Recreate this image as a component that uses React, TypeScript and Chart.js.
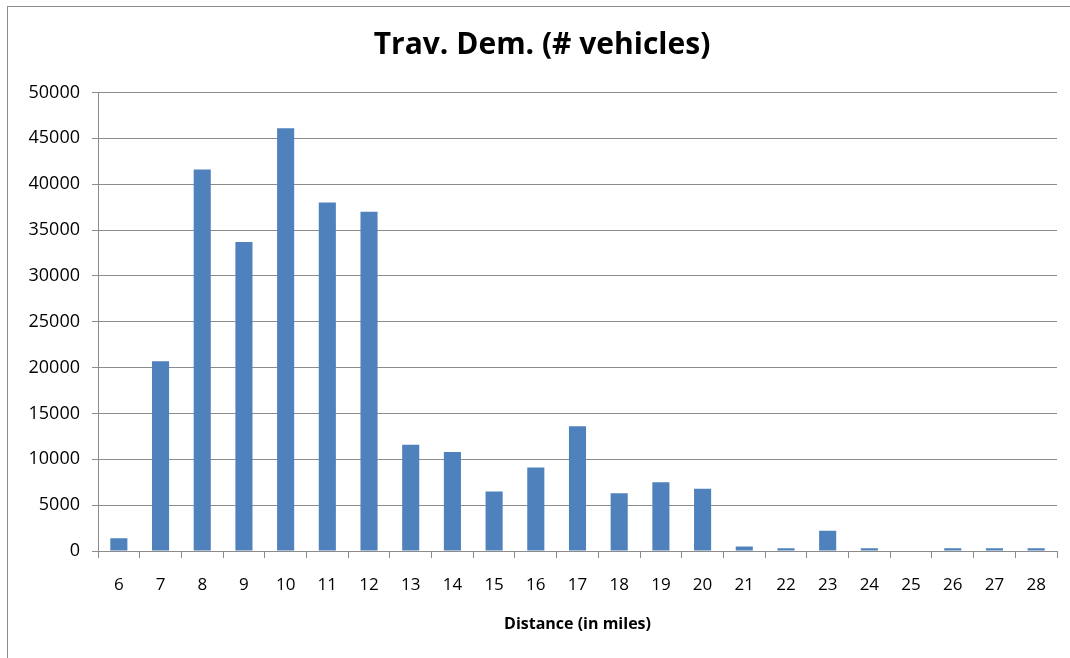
import React, { useEffect, useRef } from "react";
import { Chart, registerables } from "chart.js";

Chart.register(...registerables);

const categories = ["6","7","8","9","10","11","12","13","14","15","16","17","18","19","20","21","22","23","24","25","26","27","28"];
const vehicles = [1400, 20700, 41600, 33700, 46100, 38000, 37000, 11600, 10800, 6500, 9100, 13600, 6300, 7500, 6800, 500, 300, 2200, 300, 0, 300, 300, 300];
const yTicks = [0, 5000, 10000, 15000, 20000, 25000, 30000, 35000, 40000, 45000, 50000];
const chartTitle = "Trav. Dem. (# vehicles)";
const xTitle = "Distance (in miles)";

const FONT = "'Open Sans', 'DejaVu Sans', sans-serif";
const GRID = "#8c8c8c";

export default function App() {
  const ref = useRef<HTMLCanvasElement | null>(null);
  useEffect(() => {
    if (!ref.current) return;
    const chart = new Chart(ref.current, {
      type: "bar",
      data: {
        labels: categories,
        datasets: [
          {
            label: "Trav. Dem.",
            data: vehicles,
            backgroundColor: "#4f81bd",
            borderWidth: 0,
            categoryPercentage: 1,
            barPercentage: 0.41,
          },
        ],
      },
      options: {
        responsive: false,
        animation: false,
        devicePixelRatio: 1,
        layout: { padding: { left: 27, right: 13, top: 0, bottom: 0 } },
        plugins: {
          legend: { display: false },
          tooltip: { enabled: false },
          title: {
            display: true,
            text: chartTitle,
            color: "#000",
            font: { family: FONT, size: 30, weight: "bold", lineHeight: 1.2 },
            padding: { top: 27, bottom: 29.5 },
          },
        },
        scales: {
          x: {
            type: "category",
            grid: {
              offset: true,
              drawOnChartArea: false,
              drawTicks: true,
              tickLength: 7,
              color: GRID,
            },
            border: { display: true, color: GRID, width: 1 },
            ticks: {
              color: "#000",
              font: { family: FONT, size: 17 },
              padding: 17,
              maxRotation: 0,
              autoSkip: false,
            },
            title: {
              display: true,
              text: xTitle,
              color: "#000",
              font: { family: FONT, size: 16, weight: "bold", lineHeight: 1.2 },
              padding: { top: 0, bottom: 24 },
            },
            afterFit: (scale: any) => {
              scale.height = 107;
            },
          },
          y: {
            min: 0,
            max: 50000,
            afterBuildTicks: (scale: any) => {
              scale.ticks = yTicks.map((v) => ({ value: v }));
            },
            grid: {
              color: GRID,
              drawTicks: true,
              tickLength: 6,
            },
            border: { display: true, color: GRID, width: 1 },
            ticks: {
              color: "#000",
              font: { family: FONT, size: 18 },
              padding: 12,
              callback: (v: any) => String(v),
            },
            afterFit: (scale: any) => {
              scale.width = 71;
            },
          },
        },
      },
    });
    return () => chart.destroy();
  }, []);

  return (
    <div style={{ position: "fixed", left: 0, top: 0, width: 1070, height: 658, overflow: "hidden", background: "#fff" }}>
      <div
        style={{
          position: "absolute",
          left: 7,
          top: 6,
          width: 1200,
          height: 800,
          border: "1px solid #8c8c8c",
          boxSizing: "border-box",
        }}
      />
      <canvas ref={ref} width={1070} height={658} style={{ position: "absolute", left: 0, top: 0 }} />
    </div>
  );
}
